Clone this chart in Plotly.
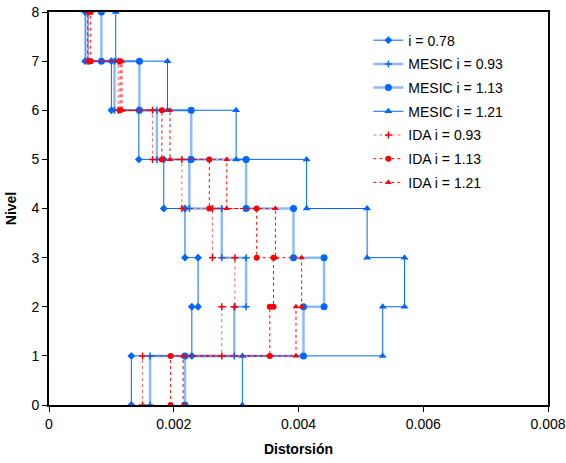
import plotly.graph_objects as go

# story drift per story (1..8)
niveles = [0, 1, 2, 3, 4, 5, 6, 7, 8]
d_078 = [0.00132, 0.00229, 0.00239, 0.00218, 0.00184, 0.00144, 0.00100, 0.00058]
mesic_093 = [0.00162, 0.00297, 0.00316, 0.00277, 0.00225, 0.00173, 0.00105, 0.00062]
mesic_113 = [0.00218, 0.00408, 0.00441, 0.00392, 0.00316, 0.00228, 0.00145, 0.00084]
mesic_121 = [0.00310, 0.00535, 0.00570, 0.00510, 0.00413, 0.00300, 0.00190, 0.00107]
ida_093 = [0.00150, 0.00277, 0.00298, 0.00262, 0.00213, 0.00166, 0.00111, 0.00064]
ida_113 = [0.00195, 0.00354, 0.00360, 0.00333, 0.00257, 0.00181, 0.00114, 0.00067]
ida_121 = [0.00215, 0.00396, 0.00405, 0.00363, 0.00285, 0.00194, 0.00117, 0.00062]


def escalon(derivas):
    # step profile: each story drift drawn from level i-1 to level i
    xs, ys = [], []
    for i, d in enumerate(derivas):
        xs += [d, d]
        ys += [niveles[i], niveles[i + 1]]
    return xs, ys


AZUL = "rgb(0,102,255)"
AZUL_CLARO = "rgba(0,102,255,0.45)"
ROJO = "rgb(255,0,0)"

series = [
    ("i = 0.78", d_078, AZUL, 1, "solid", "diamond", 6),
    ("MESIC i = 0.93", mesic_093, AZUL_CLARO, 2.5, "solid", "cross-thin", 5),
    ("MESIC i = 1.13", mesic_113, AZUL_CLARO, 2.5, "solid", "circle", 7),
    ("MESIC i = 1.21", mesic_121, AZUL, 1, "solid", "triangle-up", 7),
    ("IDA i = 0.93", ida_093, "rgba(255,0,0,0.6)", 1, "dot", "cross-thin", 5),
    ("IDA i = 1.13", ida_113, ROJO, 1, "dot", "circle", 6),
    ("IDA i = 1.21", ida_121, ROJO, 1, "dot", "triangle-up", 6),
]

fig = go.Figure()
for k, (nombre, datos, color, ancho, estilo, simbolo, tam) in enumerate(series):
    xs, ys = escalon(datos)
    mcolor = AZUL if nombre.startswith(("i", "MESIC")) else ROJO
    fig.add_trace(go.Scatter(
        x=xs, y=ys, mode="lines+markers", name=nombre, legendgroup=f"g{k}",
        line=dict(color=color, width=ancho, dash=estilo),
        marker=dict(symbol=simbolo, size=tam, color=mcolor,
                    line=dict(color=mcolor, width=1.5 if "cross" in simbolo else 0)),
    ))

fig.update_layout(
    width=566, height=463,
    margin=dict(l=49, r=18, t=12, b=58),
    plot_bgcolor="white", paper_bgcolor="white",
    font=dict(family="Liberation Sans, Arial", size=14, color="black"),
    showlegend=True,
    legend=dict(x=0.64, y=0.968, xanchor="left", yanchor="top",
                bgcolor="rgba(255,255,255,0)", font=dict(size=14),
                traceorder="grouped", tracegroupgap=2.5),
    xaxis=dict(range=[0, 0.008], automargin=False,
               showline=True, linecolor="black", linewidth=2, mirror=True,
               ticks="outside", ticklen=5, tickcolor="black", showgrid=False,
               zeroline=False,
               title=dict(text="<b>Distorsión</b>", font=dict(size=14), standoff=13)),
    yaxis=dict(range=[0, 8], dtick=1, automargin=False,
               showline=True, linecolor="black", linewidth=2, mirror=True,
               ticks="outside", ticklen=5, tickcolor="black", showgrid=False,
               zeroline=False,
               title=dict(text="<b>Nivel</b>", font=dict(size=14), standoff=12)),
)
fig.update_xaxes(tickvals=[0, 0.002, 0.004, 0.006, 0.008],
                 ticktext=["0", "0.002", "0.004", "0.006", "0.008"])

# drop the default 8px body margin so the figure fills the window
fig.write_html("out.html", config={"displayModeBar": False},
               post_script="document.body.style.margin='0';document.body.style.overflow='hidden';")
